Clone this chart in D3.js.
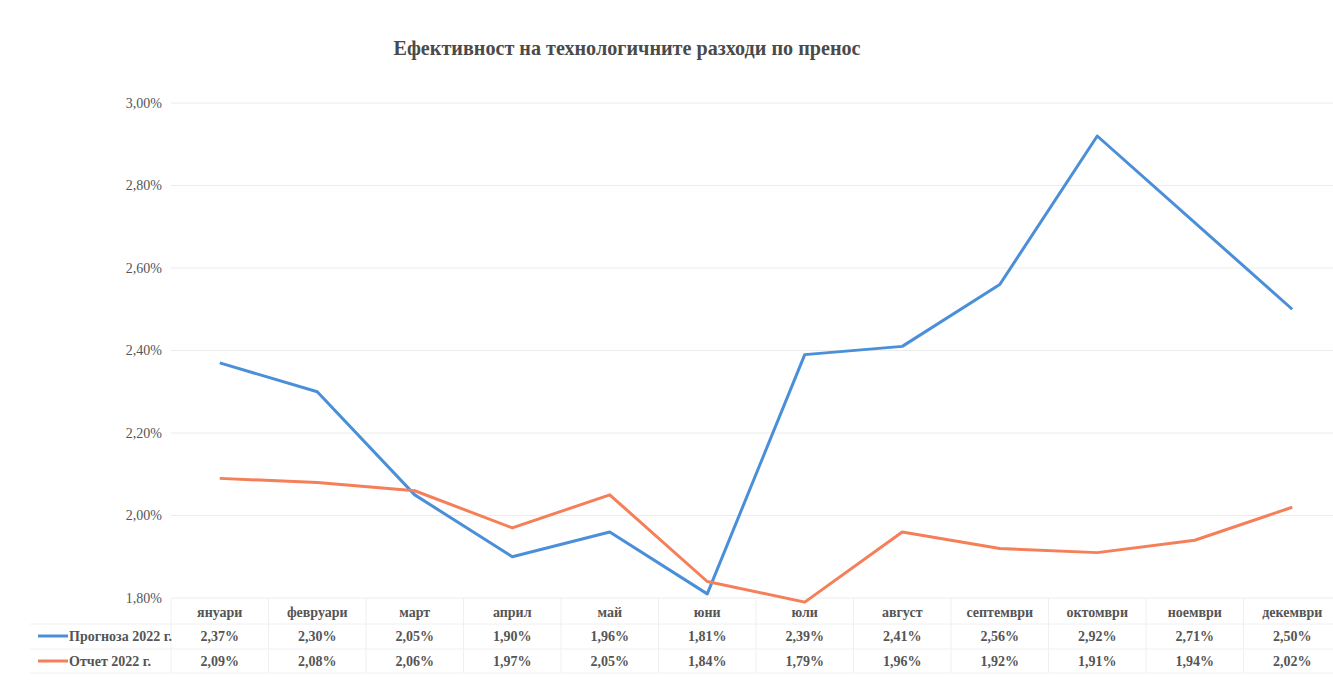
<!DOCTYPE html>
<html>
<head>
<meta charset="utf-8">
<script src="https://cdn.jsdelivr.net/npm/d3@7"></script>
<style>
  body { margin: 0; background: #fff; }
  text { font-family: "Liberation Serif", "DejaVu Serif", serif; }
</style>
</head>
<body>
<svg width="1333" height="693"></svg>
<script>
"use strict";

// months, series and ticks
const months = ["януари", "февруари", "март", "април", "май", "юни",
                "юли", "август", "септември", "октомври", "ноември", "декември"];
const forecast = [2.37, 2.30, 2.05, 1.90, 1.96, 1.81, 2.39, 2.41, 2.56, 2.92, 2.71, 2.50];
const actual = [2.09, 2.08, 2.06, 1.97, 2.05, 1.84, 1.79, 1.96, 1.92, 1.91, 1.94, 2.02];
const yTicks = [1.80, 2.00, 2.20, 2.40, 2.60, 2.80, 3.00];
const seriesNames = ["Прогноза 2022 г.", "Отчет 2022 г."];
const seriesColors = ["#4a8fd8", "#f47f58"];

const svg = d3.select("svg");
const fmt = v => v.toFixed(2).replace(".", ",") + "%";

const x = d3.scaleBand().domain(months).range([171, 1341]);
const y = d3.scaleLinear().domain([1.8, 3.0]).range([598, 103]);

// title
svg.append("text")
  .attr("x", 627).attr("y", 55)
  .attr("text-anchor", "middle")
  .attr("font-size", 22).attr("font-weight", "bold")
  .attr("fill", "#4a4a4a")
  .attr("textLength", 467).attr("lengthAdjust", "spacingAndGlyphs")
  .text("Ефективност на технологичните разходи по пренос");

// gridlines
svg.append("g").selectAll("line")
  .data(yTicks).enter().append("line")
  .attr("x1", 171).attr("x2", 1333)
  .attr("y1", d => y(d)).attr("y2", d => y(d))
  .attr("stroke", "#ececec").attr("stroke-width", 1);

// y axis labels
const yAxis = d3.axisLeft(y).tickValues(yTicks).tickFormat(fmt).tickSize(0).tickPadding(0);
const yG = svg.append("g").attr("transform", "translate(162,0)").call(yAxis);
yG.select(".domain").remove();
yG.selectAll("text")
  .attr("font-size", 14).attr("fill", "#555")
  .style("font-family", "Liberation Serif, serif");

// data table grid
const rowsY = [598, 624, 649, 673];
const tableG = svg.append("g");
tableG.selectAll("line.h")
  .data(rowsY.slice(1)).enter().append("line")
  .attr("x1", 30).attr("x2", 1333)
  .attr("y1", d => d).attr("y2", d => d)
  .attr("stroke", "#f0f0f0");
tableG.selectAll("line.v")
  .data(months).enter().append("line")
  .attr("x1", d => x(d)).attr("x2", d => x(d))
  .attr("y1", 598).attr("y2", 673)
  .attr("stroke", "#f0f0f0");

// month labels
tableG.selectAll("text.month")
  .data(months).enter().append("text")
  .attr("x", d => x(d) + x.bandwidth() / 2)
  .attr("y", 617)
  .attr("text-anchor", "middle")
  .attr("font-size", 14).attr("font-weight", "bold")
  .attr("fill", "#555")
  .text(d => d);

// lines
const line = d3.line()
  .x((d, i) => x(months[i]) + x.bandwidth() / 2)
  .y(d => y(d));

[forecast, actual].forEach((vals, k) => {
  svg.append("path")
    .datum(vals)
    .attr("fill", "none")
    .attr("stroke", seriesColors[k])
    .attr("stroke-width", 3)
    .attr("stroke-linejoin", "round")
    .attr("d", line);

  const rowY = k === 0 ? 641 : 666;
  // legend key
  svg.append("line")
    .attr("x1", 38).attr("x2", 68)
    .attr("y1", rowY - 5).attr("y2", rowY - 5)
    .attr("stroke", seriesColors[k]).attr("stroke-width", 3);
  svg.append("text")
    .attr("x", 69).attr("y", rowY)
    .attr("font-size", 14).attr("font-weight", "bold")
    .attr("fill", "#555")
    .text(seriesNames[k]);

  svg.append("g").selectAll("text")
    .data(vals).enter().append("text")
    .attr("x", (d, i) => x(months[i]) + x.bandwidth() / 2)
    .attr("y", rowY)
    .attr("text-anchor", "middle")
    .attr("font-size", 14).attr("font-weight", "bold")
    .attr("fill", "#555")
    .text(fmt);
});
</script>
</body>
</html>
